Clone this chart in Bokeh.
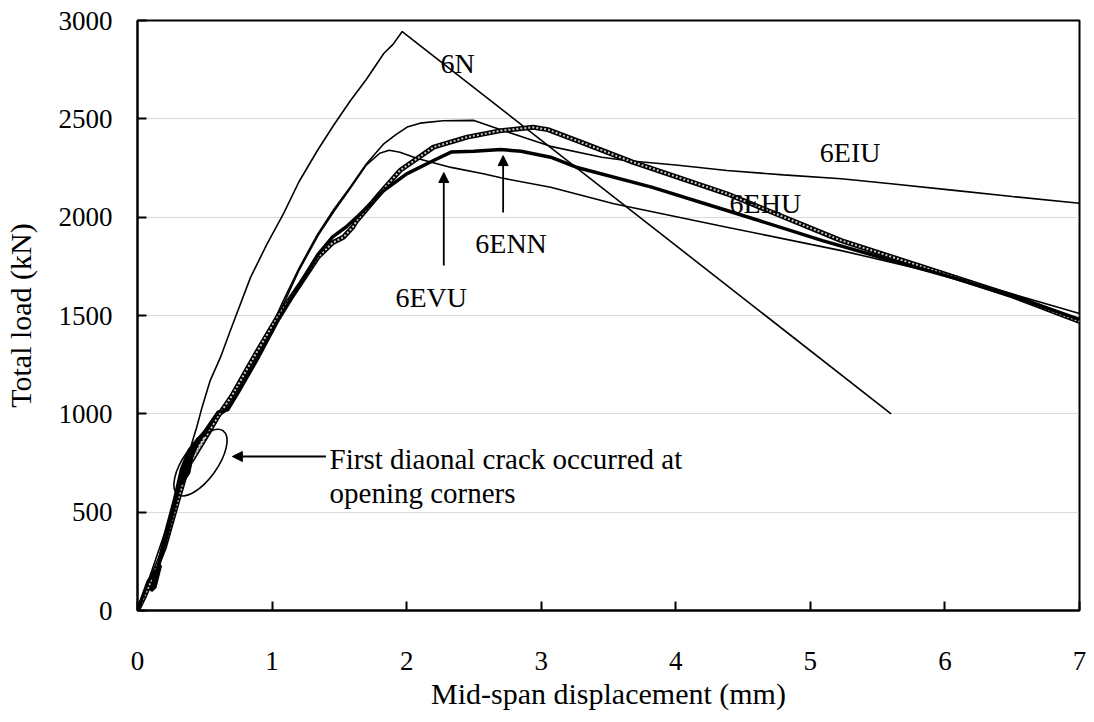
from bokeh.plotting import figure
from bokeh.models import Range1d, FixedTicker, Arrow, NormalHead, Label
from bokeh.embed import file_html
from bokeh.resources import INLINE

FONT = "Liberation Serif"

# ---- data ----
x_6N = [0, 0.05, 0.12, 0.2, 0.28, 0.35, 0.41, 0.44, 0.48, 0.54, 0.617, 0.69, 0.84, 0.96, 1.085,
        1.2, 1.337, 1.46, 1.583, 1.7, 1.83, 1.9, 1.967, 5.6]
y_6N = [0, 90, 230, 390, 560, 720, 864, 932, 1034, 1169, 1288, 1424, 1694, 1860, 2018,
        2180, 2339, 2470, 2593, 2700, 2832, 2880, 2944, 1000]

x_6EIU = [0, 0.05, 0.1, 0.15, 0.2, 0.27, 0.32, 0.38, 0.45, 0.4, 0.34, 0.5, 0.58, 0.65, 0.7, 0.8,
          0.9, 1.0, 1.085, 1.2, 1.34, 1.46, 1.58, 1.7, 1.83, 1.92, 2.004, 2.1, 2.27, 2.5,
          2.7, 2.94, 3.07, 3.45, 3.63, 4.0, 4.38, 4.8, 5.23, 5.6, 6.07, 6.5, 7.0]
y_6EIU = [0, 80, 170, 240, 390, 570, 720, 820, 880, 770, 690, 910, 980, 1010, 1090, 1210,
          1330, 1450, 1577, 1740, 1915, 2040, 2152, 2270, 2373, 2420, 2458, 2478, 2490, 2492,
          2445, 2390, 2360, 2305, 2288, 2265, 2237, 2215, 2195, 2170, 2136, 2105, 2071]

x_6EVU = [0, 0.06, 0.12, 0.17, 0.13, 0.2, 0.27, 0.33, 0.4, 0.36, 0.3, 0.44, 0.52, 0.6, 0.7,
          0.8, 0.9, 1.0, 1.1, 1.2, 1.34, 1.46, 1.58, 1.7, 1.8, 1.87, 1.95, 2.08, 2.33, 2.57,
          2.7, 3.07, 3.54, 4.38, 5.23, 6.07, 7.0]
y_6EVU = [0, 110, 200, 240, 150, 360, 560, 730, 830, 720, 650, 870, 930, 1000, 1090,
          1200, 1320, 1440, 1580, 1730, 1905, 2030, 2145, 2265, 2325, 2340, 2330, 2298, 2253, 2221,
          2200, 2152, 2068, 1949, 1830, 1695, 1510]

x_6ENN = [0, 0.08, 0.17, 0.13, 0.1, 0.2, 0.3, 0.35, 0.42, 0.38, 0.32, 0.45, 0.55, 0.6, 0.67,
          0.75, 0.9, 1.04, 1.2, 1.34, 1.45, 1.55, 1.63, 1.83, 2.0, 2.2, 2.33, 2.5, 2.7, 2.85,
          3.07, 3.26, 3.82, 4.38, 5.09, 5.5, 6.07, 6.5, 7.0]
y_6ENN = [0, 150, 230, 120, 100, 330, 600, 750, 840, 700, 640, 860, 960, 1010, 1020,
          1110, 1290, 1470, 1650, 1810, 1900, 1950, 2000, 2135, 2220, 2288, 2331, 2335, 2344, 2335,
          2305, 2254, 2153, 2034, 1881, 1800, 1690, 1600, 1480]

x_6EHU = [0, 0.05, 0.1, 0.2, 0.3, 0.36, 0.42, 0.5, 0.45, 0.4, 0.55, 0.6, 0.7, 0.8, 0.9,
          1.04, 1.21, 1.34, 1.45, 1.53, 1.6, 1.63, 1.8, 1.95, 2.2, 2.45, 2.7, 2.94, 3.05,
          3.3, 3.68, 4.38, 5.23, 6.07, 6.5, 7.0]
y_6EHU = [0, 70, 150, 320, 560, 700, 800, 880, 820, 760, 930, 990, 1090, 1210, 1330,
          1491, 1661, 1796, 1870, 1898, 1950, 1983, 2120, 2237, 2356, 2407, 2440, 2457, 2445,
          2380, 2280, 2119, 1881, 1695, 1600, 1470]

x_ticks = [0, 1, 2, 3, 4, 5, 6, 7]
y_ticks = [0, 500, 1000, 1500, 2000, 2500, 3000]

# annotation anchors (data units)
label_text = ["6N", "6EIU", "6EHU", "6ENN", "6EVU"]
label_x = [2.252, 5.07, 4.40, 2.51, 1.917]
label_y = [2781, 2331, 2071, 1868, 1593]

arrow_x0 = [2.276, 2.717, 1.40]
arrow_y0 = [1754, 2024, 783]
arrow_x1 = [2.276, 2.717, 0.705]
arrow_y1 = [2227, 2313, 783]

crack_lines = ["First diaonal crack occurred at", "opening corners"]
crack_x = 1.427
crack_y = [771, 600]

ellipse_x = [0.468]
ellipse_y = [752]

# ---- figure ----
p = figure(width=1088, height=720, x_range=Range1d(0, 7), y_range=Range1d(0, 3000),
           output_backend="svg", toolbar_location=None,
           min_border_left=137, min_border_top=20, min_border_right=9, min_border_bottom=110)
p.background_fill_color = "white"
p.border_fill_color = "white"
p.outline_line_color = "black"
p.outline_line_width = 2

p.xgrid.visible = False
p.ygrid.grid_line_color = "#b5b5b5"
p.ygrid.grid_line_dash = "1 1"
p.ygrid.grid_line_width = 1

p.xaxis.ticker = FixedTicker(ticks=x_ticks)
p.yaxis.ticker = FixedTicker(ticks=y_ticks)
for ax in (p.xaxis, p.yaxis):
    ax.axis_line_width = 2
    ax.axis_line_color = "black"
    ax.major_tick_line_width = 2
    ax.major_tick_line_color = "black"
    ax.major_tick_in = 9
    ax.major_tick_out = 0
    ax.minor_tick_line_color = None
    ax.major_label_text_font = FONT
    ax.major_label_text_font_size = "27px"
    ax.major_label_text_color = "black"
    ax.axis_label_text_font = FONT
    ax.axis_label_text_font_size = "30px"
    ax.axis_label_text_font_style = "normal"
    ax.axis_label_text_color = "black"

p.xaxis.axis_label = "Mid-span displacement (mm)"
p.yaxis.axis_label = "Total load (kN)"
p.xaxis.major_label_standoff = 41
p.yaxis.major_label_standoff = 25
p.xaxis.axis_label_standoff = 4
p.yaxis.axis_label_standoff = 19

# curves
p.line(x_6N, y_6N, line_color="black", line_width=1.6)
p.line(x_6EIU, y_6EIU, line_color="black", line_width=1.6)
p.line(x_6EVU, y_6EVU, line_color="black", line_width=1.6)
p.line(x_6EHU, y_6EHU, line_color="black", line_width=5)
p.line(x_6EHU, y_6EHU, line_color="#c8c8c8", line_width=2, line_dash="2 2")
p.line(x_6ENN, y_6ENN, line_color="black", line_width=3.5)

# ellipse marking first cracks
p.ellipse(x=ellipse_x, y=ellipse_y, width=78, height=34, angle=0.95,
          width_units="screen", height_units="screen",
          fill_color=None, line_color="black", line_width=1.6)

for xs, ys, xe, ye in zip(arrow_x0, arrow_y0, arrow_x1, arrow_y1):
    p.add_layout(Arrow(end=NormalHead(size=10, fill_color="black", line_color="black"),
                       x_start=xs, y_start=ys, x_end=xe, y_end=ye,
                       line_color="black", line_width=1.8))

for t, lx, ly in zip(label_text, label_x, label_y):
    p.add_layout(Label(x=lx, y=ly, text=t, text_font=FONT, text_font_size="28px",
                       text_color="black", text_align="left", text_baseline="alphabetic"))

for t, ly in zip(crack_lines, crack_y):
    p.add_layout(Label(x=crack_x, y=ly, text=t, text_font=FONT, text_font_size="29px",
                       text_color="black", text_align="left", text_baseline="alphabetic"))

open("out.html", "w").write(file_html(p, INLINE))
